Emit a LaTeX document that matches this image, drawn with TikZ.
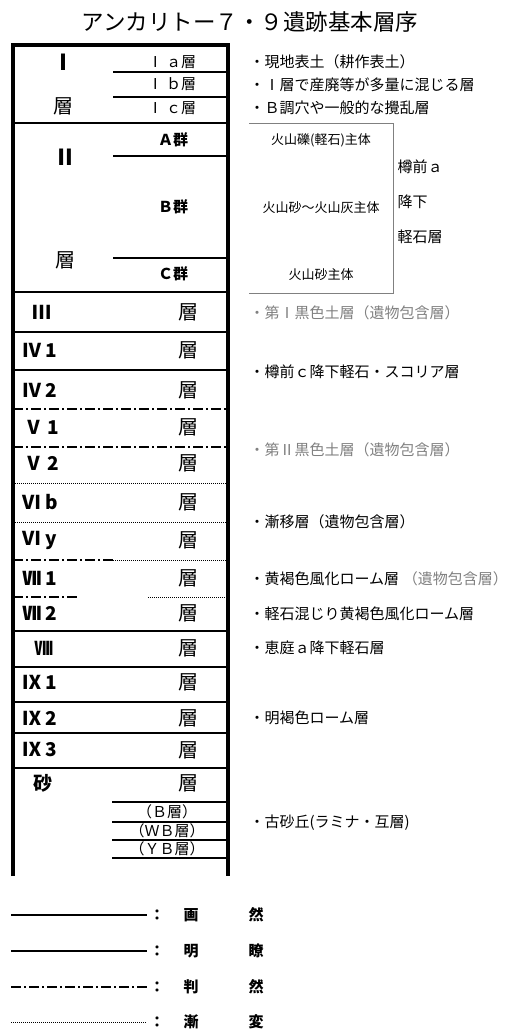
\documentclass[tikz,border=0pt]{standalone}
\usepackage{fontspec}
\setmainfont{Noto Sans CJK JP}
\usetikzlibrary{positioning}
\tikzset{gaizen/.style={line width=2.4pt},  % boundary: 画然
         meiryo/.style={line width=1.2pt},  % boundary: 明瞭
         hanzen/.style={line width=1.2pt,   % boundary: 判然
           dash pattern=on 10pt off 3pt on 2pt off 3pt},
         zenpen/.style={line width=0.8pt,   % boundary: 漸変
           dash pattern=on 1pt off 1pt},
         bignum/.style={font=\bfseries\fontsize{22}{22}\selectfont},
         layername/.style={anchor=west, font=\bfseries\fontsize{19}{19}\selectfont},
         soulabel/.style={font=\fontsize{20}{20}\selectfont},
         sublabel/.style={font=\fontsize{15}{15}\selectfont},
         desc/.style={anchor=west, font=\fontsize{15}{15}\selectfont},
         boxtext/.style={font=\fontsize{13}{13}\selectfont},
         keytext/.style={font=\bfseries\fontsize{15}{15}\selectfont}}

\begin{document}
\begin{tikzpicture}[x=1pt, y=-1pt]
\useasboundingbox (0,0) rectangle (520,1030);
\node[font=\fontsize{22.5}{22.5}\selectfont] (title) at (250,22) {アンカリトー７・９遺跡基本層序};

% column frame
\draw[line width=3.2pt] (13,876) -- (13,45) -- (228,45) -- (228,876);

% layer boundaries
\draw[gaizen] (113,72) -- (228,72);
\draw[gaizen] (113,97) -- (228,97);
\draw[gaizen] (13,123) -- (228,123);
\draw[gaizen] (113,156) -- (228,156);
\draw[gaizen] (113,258) -- (228,258);
\draw[gaizen] (13,292) -- (228,292);
\draw[meiryo] (13,332) -- (228,332);
\draw[meiryo] (13,370) -- (228,370);
\draw[hanzen] (13,409) -- (228,409);
\draw[hanzen] (13,447) -- (228,447);
\draw[zenpen] (13,483) -- (228,483);
\draw[zenpen] (13,522) -- (228,522);
\draw[hanzen] (13,560) -- (113,560);
\draw[zenpen] (113,560) -- (228,560);
\draw[hanzen] (13,597) -- (77,597);
\draw[zenpen] (148,597) -- (228,597);
\draw[gaizen] (13,631) -- (228,631);
\draw[meiryo] (13,667) -- (228,667);
\draw[meiryo] (13,702) -- (228,702);
\draw[meiryo] (13,733) -- (228,733);
\draw[gaizen] (13,768) -- (228,768);
\draw[gaizen] (112,802) -- (228,802);
\draw[gaizen] (112,822) -- (228,822);
\draw[gaizen] (112,840) -- (228,840);
\draw[gaizen] (112,858) -- (228,858);

% layer names
\node[bignum] (n1) at (63,62) {Ⅰ};
\node[soulabel] (n1s) at (63,106) {層};
\node[sublabel] (n1a) at (172,62) {Ⅰ ａ層};
\node[sublabel] (n1b) at (172,84) {Ⅰ ｂ層};
\node[sublabel] (n1c) at (172,108) {Ⅰ ｃ層};
\node[bignum] (n2) at (65,157) {Ⅱ};
\node[soulabel] (n2s) at (65,260) {層};
\node[sublabel, font=\bfseries\fontsize{15}{15}\selectfont] (n2a) at (173,140) {Ａ群};
\node[sublabel, font=\bfseries\fontsize{15}{15}\selectfont] (n2b) at (173,207) {Ｂ群};
\node[sublabel, font=\bfseries\fontsize{15}{15}\selectfont] (n2c) at (173,274) {Ｃ群};
\node[layername, anchor=center] (n3) at (42,312) {Ⅲ};
\node[layername] (n41) at (19,350) {Ⅳ 1};
\node[layername] (n42) at (19,390) {Ⅳ 2};
\node[layername] (n51) at (21,427) {Ⅴ 1};
\node[layername] (n52) at (21,463) {Ⅴ 2};
\node[layername] (n6b) at (19,502) {Ⅵ b};
\node[layername] (n6y) at (19,540) {Ⅵ y};
\node[layername] (n71) at (19,578) {Ⅶ 1};
\node[layername] (n72) at (19,613) {Ⅶ 2};
\node[layername, anchor=center] (n8) at (44,648) {Ⅷ};
\node[layername] (n91) at (19,682) {Ⅸ 1};
\node[layername] (n92) at (19,718) {Ⅸ 2};
\node[layername] (n93) at (19,750) {Ⅸ 3};
\node[layername, anchor=center] (nsa) at (43,783) {砂};
\node[soulabel] (s3) at (188,312) {層};
\node[soulabel] (s41) at (188,350) {層};
\node[soulabel] (s42) at (188,390) {層};
\node[soulabel] (s51) at (188,427) {層};
\node[soulabel] (s52) at (188,463) {層};
\node[soulabel] (s6b) at (188,502) {層};
\node[soulabel] (s6y) at (188,540) {層};
\node[soulabel] (s71) at (188,578) {層};
\node[soulabel] (s72) at (188,613) {層};
\node[soulabel] (s8) at (188,648) {層};
\node[soulabel] (s91) at (188,682) {層};
\node[soulabel] (s92) at (188,718) {層};
\node[soulabel] (s93) at (188,750) {層};
\node[soulabel] (ssa) at (188,783) {層};
\node[sublabel] (nb) at (167,812) {（Ｂ層）};
\node[sublabel] (nwb) at (167,831) {（ＷＢ層）};
\node[sublabel] (nyb) at (167,849) {（ＹＢ層）};

% descriptions
\node[desc] (d1a) at (246,62) {・現地表土（耕作表土）};
\node[desc] (d1b) at (246,85) {・Ⅰ層で産廃等が多量に混じる層};
\node[desc] (d1c) at (246,108) {・Ｂ調穴や一般的な攪乱層};
\draw[gray, line width=0.8pt] (249,123) -- (393,123) -- (393,293) -- (249,293);
\node[boxtext] (v1) at (321,140) {火山礫(軽石)主体};
\node[boxtext] (v2) at (321,208) {火山砂〜火山灰主体};
\node[boxtext] (v3) at (321,275) {火山砂主体};
\node[desc] (ta) at (394,167) {樽前ａ};
\node[desc, below=14pt of ta.south west, anchor=north west] (tb) {降下};
\node[desc, below=14pt of tb.south west, anchor=north west] (tc) {軽石層};
\node[desc, gray] (d3) at (246,313) {・第Ⅰ黒色土層（遺物包含層）};
\node[desc] (d4) at (246,372) {・樽前ｃ降下軽石・スコリア層};
\node[desc, gray] (d5) at (246,450) {・第Ⅱ黒色土層（遺物包含層）};
\node[desc] (d6) at (246,522) {・漸移層（遺物包含層）};
\node[desc] (d7) at (246,579) {・黄褐色風化ローム層};
\node[desc, gray, right=0pt of d7, inner sep=0pt] (d7g) {（遺物包含層）};
\node[desc] (d72) at (246,614) {・軽石混じり黄褐色風化ローム層};
\node[desc] (d8) at (246,648) {・恵庭ａ降下軽石層};
\node[desc] (d9) at (246,718) {・明褐色ローム層};
\node[desc] (dsa) at (246,823) {・古砂丘(ラミナ・互層)};

% legend
\draw[gaizen] (11,915) -- (147,915);
\draw[meiryo] (11,951) -- (147,951);
\draw[hanzen] (11,987) -- (147,987);
\draw[zenpen] (11,1022) -- (147,1022);
\node[keytext] (c1) at (157,915) {：};
\node[keytext] (k1a) at (191,915) {画};
\node[keytext] (k1b) at (256,915) {然};
\node[keytext] (c2) at (157,951) {：};
\node[keytext] (k2a) at (191,951) {明};
\node[keytext] (k2b) at (256,951) {瞭};
\node[keytext] (c3) at (157,987) {：};
\node[keytext] (k3a) at (191,987) {判};
\node[keytext] (k3b) at (256,987) {然};
\node[keytext] (c4) at (157,1022) {：};
\node[keytext] (k4a) at (191,1022) {漸};
\node[keytext] (k4b) at (256,1022) {変};
\end{tikzpicture}
\end{document}
